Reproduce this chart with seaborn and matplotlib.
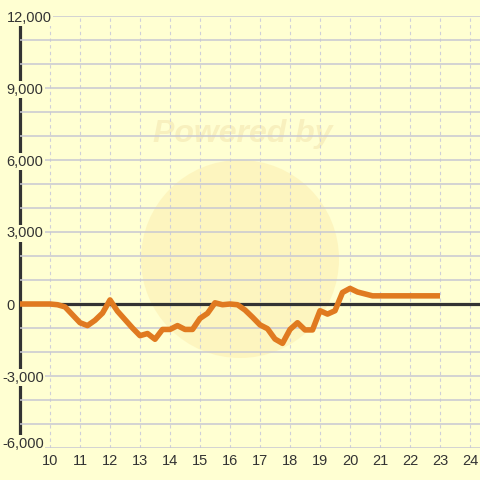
import matplotlib
matplotlib.use("Agg")
import matplotlib.pyplot as plt
import matplotlib.transforms as mtransforms
from matplotlib.patches import Circle
import seaborn as sns

# ---- data -------------------------------------------------------------
hours = [9.0, 9.25, 9.5, 9.75, 10.0, 10.25, 10.5, 10.75, 11.0, 11.25, 11.5, 11.75,
         12.0, 12.25, 12.5, 12.75, 13.0, 13.25, 13.5, 13.75, 14.0, 14.25, 14.5, 14.75,
         15.0, 15.25, 15.5, 15.75, 16.0, 16.25, 16.5, 16.75, 17.0, 17.25, 17.5, 17.75,
         18.0, 18.25, 18.5, 18.75, 19.0, 19.25, 19.5, 19.75, 20.0, 20.25, 20.5, 20.75,
         21.0, 21.25, 21.5, 21.75, 22.0, 22.25, 22.5, 22.75, 23.0]
balance = [0, 0, 0, 0, 0, -30, -120, -450, -780, -900, -680, -380,
           170, -300, -650, -1000, -1320, -1230, -1470, -1060, -1060, -900, -1060, -1060,
           -600, -390, 50, -30, 0, -30, -250, -550, -870, -1030, -1460, -1640,
           -1060, -780, -1080, -1080, -280, -420, -280, 480, 650, 500, 420, 340,
           340, 340, 340, 340, 340, 340, 340, 340, 340]

y_ticks = [-6000, -3000, 0, 3000, 6000, 9000, 12000]
y_tick_labels = ["-6,000", "-3,000", "0", "3,000", "6,000", "9,000", "12,000"]
y_minor = [-5000, -4000, -2000, -1000, 1000, 2000, 4000, 5000, 7000, 8000, 10000, 11000]
x_ticks = [10, 11, 12, 13, 14, 15, 16, 17, 18, 19, 20, 21, 22, 23, 24]
x_tick_labels = ["10", "11", "12", "13", "14", "15", "16", "17", "18", "19", "20",
                 "21", "22", "23", "24"]

# ---- style ------------------------------------------------------------
BG = "#FFFFD2"
GRID = "#C8C8D2"
DARK = "#333333"
ORANGE = "#E07A20"

sns.set_style("white")
plt.rcParams["font.family"] = ["Liberation Sans", "DejaVu Sans"]

fig = plt.figure(figsize=(4.8, 4.8), dpi=100, facecolor=BG)
ax = fig.add_axes([20 / 480, 32 / 480, 460 / 480, 432 / 480])
ax.set_facecolor(BG)
ax.set_xlim(9, 9 + 460 / 30)
ax.set_ylim(-6000, 12000)

for s in ax.spines.values():
    s.set_visible(False)

# watermark
ax.add_patch(Circle((240 / 480, 1 - 259 / 480), 99 / 480, transform=fig.transFigure,
                    facecolor="#FDF4BC", edgecolor="none", alpha=0.85, zorder=0.1))
ax.text(243 / 480, 1 - 134 / 480, "Powered by", transform=fig.transFigure,
        ha="center", va="center", fontsize=23, fontweight="bold", fontstyle="italic",
        color="#F8F0BE", zorder=0.2)

ax.set_axisbelow(True)
ax.set_yticks(y_ticks)
ax.set_yticks(y_minor, minor=True)
ax.set_xticks(x_ticks)
ax.set_xticklabels(x_tick_labels)
ax.set_yticklabels(y_tick_labels)

ax.grid(axis="y", which="both", color=GRID, lw=1.1, ls="-")
ax.grid(axis="x", which="major", color="#CFCFD8", lw=0.8, ls=(0, (3, 3)))

ax.tick_params(axis="both", which="both", length=0, labelsize=10.5, labelcolor=DARK)
ax.tick_params(axis="y", pad=9.8)
ax.tick_params(axis="x", pad=4)

for lbl in ax.get_yticklabels():
    lbl.set_ha("left")
    lbl.set_bbox(dict(facecolor=BG, edgecolor="none", pad=1))
    dx, dy = 0, 0
    if lbl.get_text().startswith("-"):
        dx = -4.3
    if lbl.get_text() == "-6,000":
        dy = 6
    if dx or dy:
        lbl.set_transform(lbl.get_transform() +
                          mtransforms.ScaledTranslation(dx / 100, dy / 100, fig.dpi_scale_trans))

# left axis line (drawn beneath the tick labels)
ax.plot([9, 9], [-5460, 11667], color=DARK, lw=2.3, clip_on=False,
        solid_capstyle="butt", zorder=0.45)

# zero line
ax.axhline(0, color=DARK, lw=2.3, zorder=1.5)

sns.lineplot(x=hours, y=balance, ax=ax, color=ORANGE, lw=4,
             solid_joinstyle="round", solid_capstyle="butt", zorder=2)

fig.savefig("out.png", dpi=100, facecolor=BG)
